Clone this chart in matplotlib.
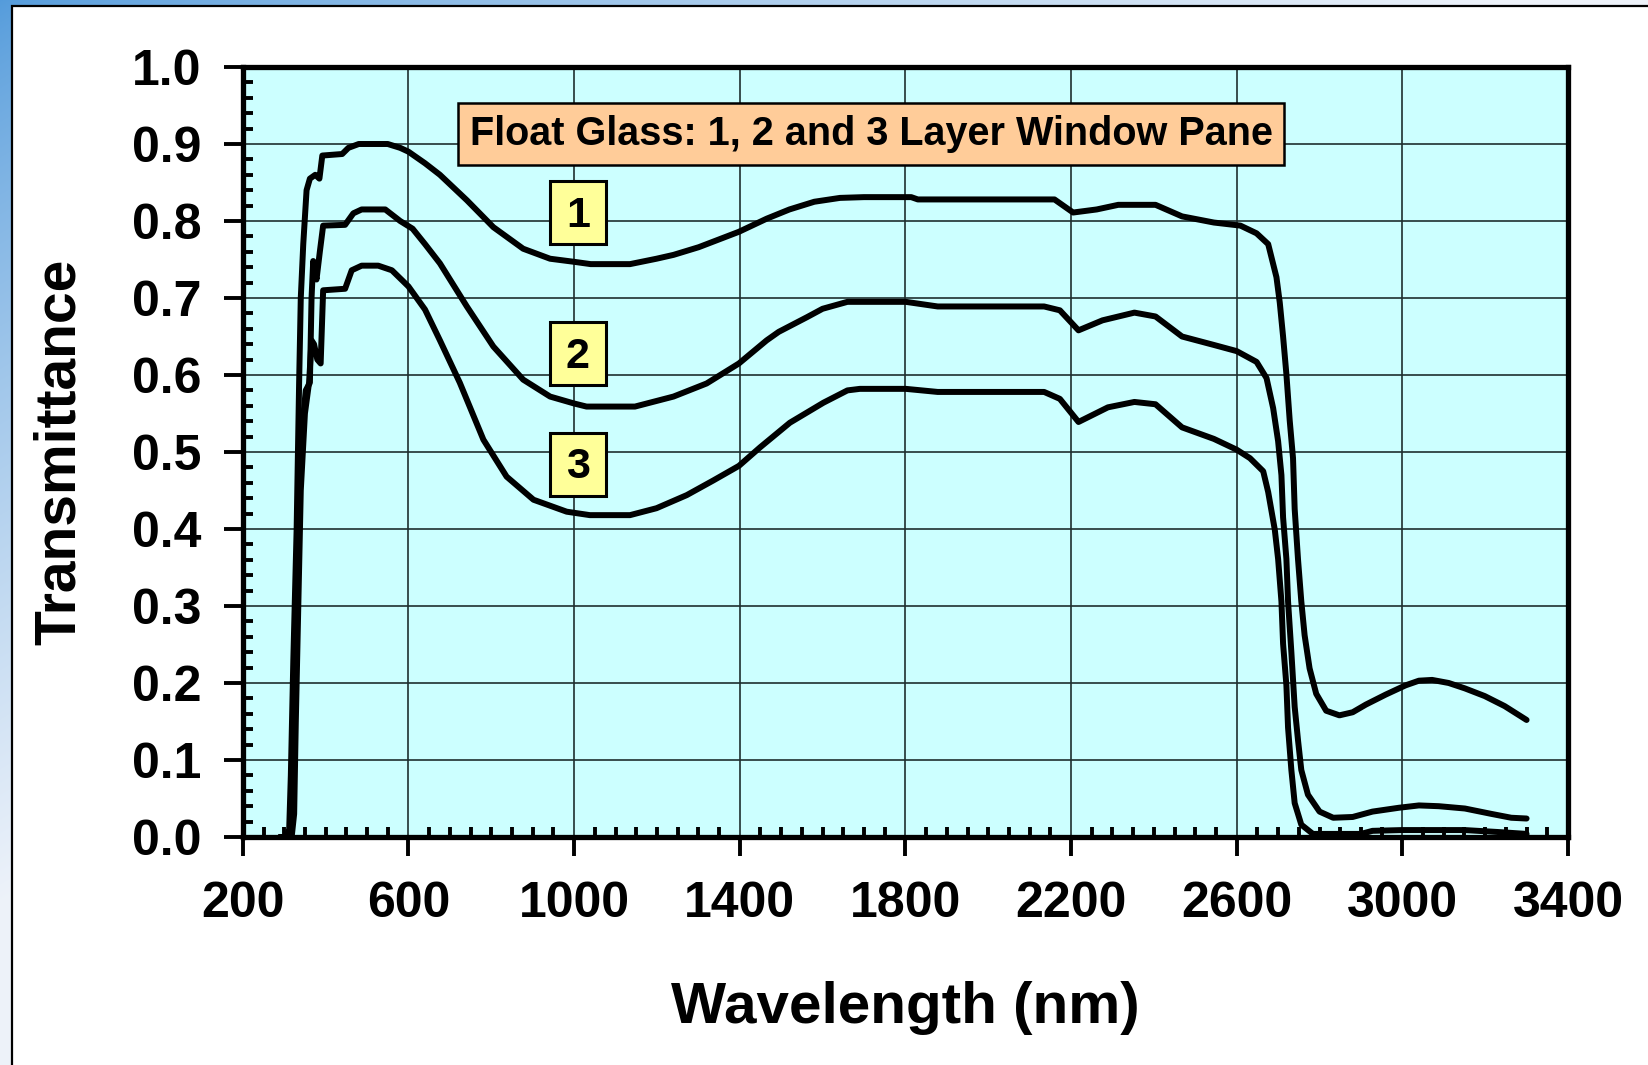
import numpy as np
import matplotlib
matplotlib.use("Agg")
import matplotlib.pyplot as plt
from matplotlib.ticker import MultipleLocator, FormatStrFormatter
from matplotlib.patches import Rectangle

plt.rcParams['font.family'] = ['Liberation Sans', 'DejaVu Sans']
plt.rcParams['font.weight'] = 'bold'

# ---------------- data ----------------
wl_1 = [290, 305, 312, 316, 322, 330, 336, 340, 346, 354, 362, 375, 385, 392, 440, 455, 480,
        550, 580, 600, 640, 676, 741, 805, 877, 942, 1000, 1040, 1135, 1199, 1240, 1301, 1398,
        1465, 1520, 1580, 1642, 1700, 1814, 1830, 2160, 2205, 2262, 2314, 2404, 2468, 2545,
        2609, 2648, 2676, 2696, 2704, 2712, 2720, 2728, 2736, 2740, 2748, 2756, 2764, 2776,
        2792, 2816, 2848, 2880, 2912, 2960, 3008, 3040, 3072, 3112, 3151, 3199, 3247, 3300]
tr_1 = [0.0, 0.0, 0.01, 0.08, 0.23, 0.40, 0.59, 0.70, 0.77, 0.84, 0.855, 0.86, 0.855, 0.885,
        0.887, 0.895, 0.900, 0.900, 0.895, 0.890, 0.875, 0.860, 0.827, 0.792, 0.764, 0.751,
        0.747, 0.744, 0.744, 0.751, 0.756, 0.766, 0.786, 0.803, 0.815, 0.825, 0.830, 0.831,
        0.831, 0.828, 0.828, 0.811, 0.815, 0.821, 0.821, 0.806, 0.798, 0.794, 0.784, 0.770,
        0.727, 0.694, 0.650, 0.601, 0.541, 0.492, 0.426, 0.361, 0.306, 0.262, 0.219, 0.186,
        0.164, 0.158, 0.162, 0.172, 0.185, 0.197, 0.203, 0.204, 0.200, 0.193, 0.183, 0.170,
        0.152]

wl_2 = [290, 312, 318, 322, 330, 338, 352, 362, 366, 370, 374, 378, 386, 394, 447, 467, 487,
        544, 580, 610, 640, 676, 741, 805, 877, 942, 1000, 1030, 1147, 1240, 1320, 1398, 1465,
        1494, 1562, 1600, 1660, 1801, 1878, 2135, 2173, 2218, 2276, 2353, 2404, 2468, 2545,
        2600, 2648, 2672, 2688, 2700, 2708, 2712, 2720, 2724, 2732, 2740, 2748, 2756, 2772,
        2800, 2833, 2880, 2928, 2992, 3040, 3088, 3151, 3215, 3263, 3300]
tr_2 = [0.0, 0.0, 0.02, 0.10, 0.30, 0.50, 0.58, 0.59, 0.70, 0.748, 0.735, 0.724, 0.76, 0.794,
        0.795, 0.810, 0.815, 0.815, 0.800, 0.790, 0.770, 0.745, 0.689, 0.637, 0.594, 0.572,
        0.563, 0.559, 0.559, 0.572, 0.589, 0.615, 0.645, 0.656, 0.675, 0.686, 0.695, 0.695,
        0.689, 0.689, 0.684, 0.658, 0.671, 0.681, 0.676, 0.650, 0.639, 0.631, 0.617, 0.596,
        0.557, 0.514, 0.470, 0.415, 0.361, 0.306, 0.240, 0.169, 0.126, 0.087, 0.055, 0.033,
        0.025, 0.026, 0.033, 0.038, 0.041, 0.040, 0.037, 0.030, 0.025, 0.024]

wl_3 = [290, 318, 324, 328, 334, 340, 350, 360, 366, 372, 380, 388, 394, 447, 463, 487, 527,
        560, 600, 640, 676, 724, 781, 837, 902, 982, 1038, 1135, 1199, 1272, 1336, 1398, 1449,
        1521, 1602, 1660, 1690, 1801, 1878, 2135, 2173, 2218, 2289, 2353, 2404, 2468, 2545,
        2600, 2632, 2664, 2676, 2692, 2700, 2708, 2712, 2720, 2724, 2732, 2740, 2756, 2784,
        2833, 2900, 2928, 3000, 3150, 3230, 3300]
tr_3 = [0.0, 0.0, 0.03, 0.15, 0.30, 0.45, 0.55, 0.59, 0.645, 0.64, 0.62, 0.615, 0.71, 0.712,
        0.736, 0.742, 0.742, 0.736, 0.715, 0.685, 0.645, 0.590, 0.516, 0.468, 0.438, 0.4225,
        0.418, 0.418, 0.427, 0.444, 0.463, 0.482, 0.506, 0.538, 0.564, 0.580, 0.582, 0.582,
        0.578, 0.578, 0.569, 0.539, 0.558, 0.565, 0.562, 0.532, 0.517, 0.503, 0.492, 0.475,
        0.448, 0.399, 0.361, 0.306, 0.251, 0.197, 0.142, 0.087, 0.044, 0.016, 0.004, 0.004,
        0.004, 0.008, 0.009, 0.009, 0.0065, 0.004]

layer_labels = ["1", "2", "3"]
label_wl = [1009, 1009, 1009]
label_tr = [0.811, 0.628, 0.484]

title_text = "Float Glass: 1, 2 and 3 Layer Window Pane"
x_label = "Wavelength (nm)"
y_label = "Transmittance"
x_ticks = list(range(200, 3401, 400))
y_ticks = [round(0.1 * i, 1) for i in range(11)]

# ---------------- figure ----------------
W, H = 1648, 1065
fig = plt.figure(figsize=(W / 100, H / 100), dpi=100)

# slide-like gradient background with white panel
bg = fig.add_axes([0, 0, 1, 1], zorder=-10)
bg.axis('off')
yy, xx = np.mgrid[0:H, 0:W]
t = np.clip(xx / 1500.0 + yy / 900.0, 0, 1) ** 0.8
c0 = np.array([0.33, 0.61, 0.86])
c1 = np.array([0.93, 0.95, 0.98])
img = c0[None, None, :] * (1 - t[..., None]) + c1[None, None, :] * t[..., None]
bg.imshow(img, extent=[0, 1, 0, 1], aspect='auto', origin='upper')
bg.set_xlim(0, 1)
bg.set_ylim(0, 1)
bg.add_patch(Rectangle((11.5 / W, -0.01), 1.05, 1 - 6.0 / H + 0.01,
                       transform=bg.transAxes, facecolor='white', edgecolor='black',
                       linewidth=1.6))

ax = fig.add_axes([242.8 / W, 1 - 837 / H, (1568 - 242.8) / W, (837 - 67) / H])
ax.set_facecolor('#CCFFFF')
ax.set_xlim(200, 3400)
ax.set_ylim(0, 1.0)

ax.set_xticks(x_ticks)
ax.set_yticks(y_ticks)
ax.xaxis.set_minor_locator(MultipleLocator(50))
ax.yaxis.set_minor_locator(MultipleLocator(0.02))
ax.yaxis.set_major_formatter(FormatStrFormatter('%.1f'))

ax.grid(True, which='major', color='#1f2f2f', linewidth=1.2, zorder=1)
ax.set_axisbelow(True)

for s in ax.spines.values():
    s.set_linewidth(3.8)
    s.set_color('black')

ax.tick_params(axis='both', which='major', direction='out', length=14, width=2.8,
               labelsize=36, colors='black')
ax.tick_params(axis='x', which='major', pad=18)
ax.tick_params(axis='y', which='major', pad=16)
ax.tick_params(axis='both', which='minor', direction='in', length=7, width=2.8)
for lab in ax.get_xticklabels() + ax.get_yticklabels():
    lab.set_fontweight('bold')

for wl, tr in [(wl_1, tr_1), (wl_2, tr_2), (wl_3, tr_3)]:
    ax.plot(wl, tr, color='black', linewidth=4.3, solid_joinstyle='round',
            solid_capstyle='round', zorder=3)

# title box
ax.text(1717, 0.913, title_text, ha='center', va='center', fontsize=28.5, fontweight='bold',
        zorder=5, bbox=dict(boxstyle='square,pad=0.3', facecolor='#FFCC99',
                            edgecolor='black', linewidth=1.8))

# layer number boxes
bw, bh = 56 / 0.4141, 63 / 770.0
for lab, xw, yt in zip(layer_labels, label_wl, label_tr):
    ax.add_patch(Rectangle((xw - bw / 2, yt - bh / 2), bw, bh, facecolor='#FFFF99',
                           edgecolor='black', linewidth=2.2, zorder=5))
    ax.text(xw, yt - 0.004, lab, ha='center', va='center', fontsize=31, fontweight='bold',
            zorder=6)

fig.text(905 / W, 1 - 1008 / H, x_label, ha='center', va='center', fontsize=42,
         fontweight='bold')
fig.text(60 / W, 1 - 452 / H, y_label, ha='center', va='center', fontsize=41,
         fontweight='bold', rotation=90)

fig.savefig('out.png', dpi=100)
